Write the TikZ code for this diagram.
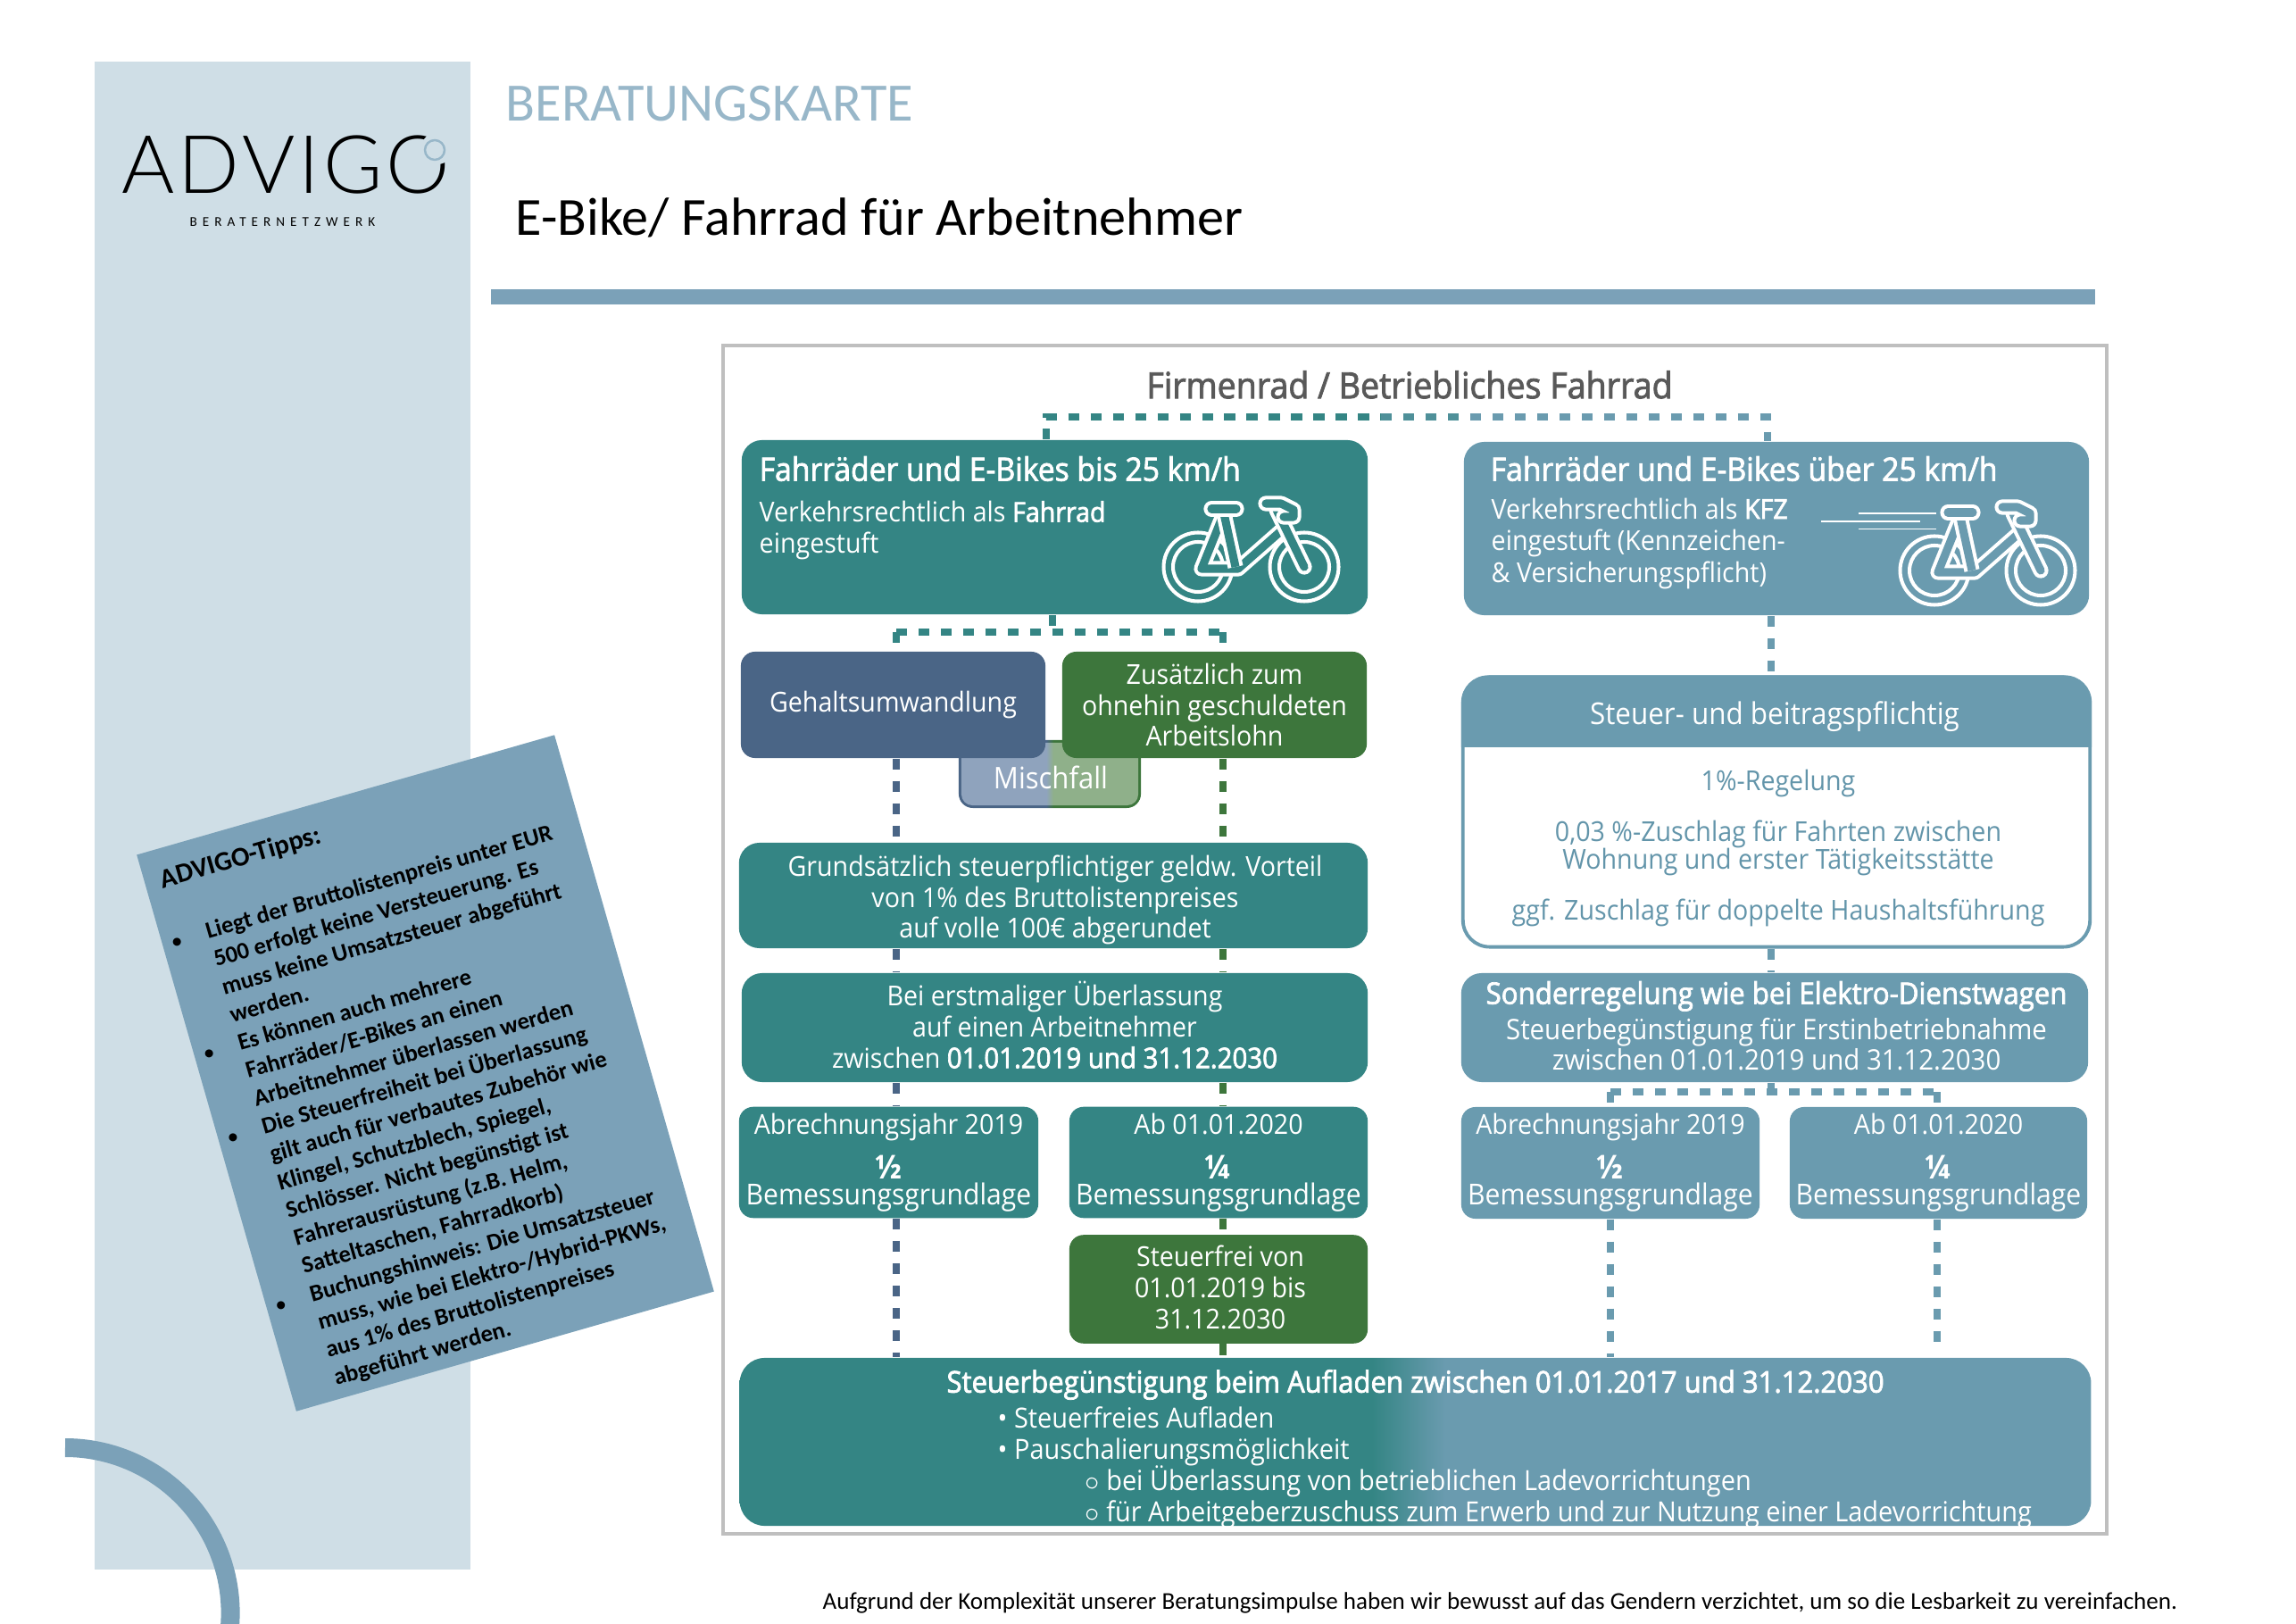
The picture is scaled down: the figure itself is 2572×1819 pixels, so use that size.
\documentclass[tikz,border=0pt]{standalone}
\usepackage{fontspec}
\setmainfont[FakeStretch=0.93]{Open Sans}
\newfontfamily\semifont[FakeBold=2.2,FakeStretch=0.93]{Open Sans}
\newfontfamily\cardfont{Carlito}
\newfontfamily\logofont{Lato Light}
\usepackage{tikz}
\setlength{\normallineskiplimit}{-20pt}
\AtBeginDocument{\lineskiplimit=-20pt}

\definecolor{panelBg}{HTML}{CFDEE6}
\definecolor{barBlue}{HTML}{7BA1B8}
\definecolor{cardBlue}{HTML}{98B7C9}
\definecolor{frameGray}{HTML}{BFBFBF}
\definecolor{headGray}{HTML}{595959}
\definecolor{fillTeal}{HTML}{348584}
\definecolor{fillBlue}{HTML}{6A9BAF}
\definecolor{fillNavy}{HTML}{4A6586}
\definecolor{fillGreen}{HTML}{3D763C}
\definecolor{mixNavy}{HTML}{8FA3BD}
\definecolor{mixGreen}{HTML}{8FB08A}
\definecolor{textBlue}{HTML}{6395AA}

\pgfdeclarehorizontalshading{chargeShade}{100bp}{color(0bp)=(fillTeal); color(48.4bp)=(fillTeal); color(51.1bp)=(fillBlue); color(100bp)=(fillBlue)}
\pgfdeclarehorizontalshading{mischShade}{100bp}{color(0bp)=(mixNavy); color(49bp)=(mixNavy); color(51bp)=(mixGreen); color(100bp)=(mixGreen)}
\pgfdeclarehorizontalshading{mischEdge}{100bp}{color(0bp)=(fillNavy); color(49bp)=(fillNavy); color(51bp)=(fillGreen); color(100bp)=(fillGreen)}

\newcommand{\bodyText}{\fontsize{8.75pt}{9.9pt}\selectfont}
\newcommand{\semiText}{\semifont\fontsize{9.5pt}{9.9pt}\selectfont}
\newcommand{\basisLine}{{\fontsize{9.2pt}{8.25pt}\selectfont Bemessungsgrundlage}}
\newcommand{\tipDot}{\llap{{\fontsize{6pt}{9pt}\selectfont\textbullet}\hspace{8.4pt}}}

\tikzset{
  bikeline/.style={white, line width=1.15pt},
  bikeicon/.pic={
    \draw[bikeline] (0,0) circle[radius=38.5];
    \draw[bikeline] (0,0) circle[radius=28];
    \draw[bikeline] (119,0) circle[radius=38.5];
    \draw[bikeline] (119,0) circle[radius=28];
    \draw[bikeline, double=#1, double distance=2.6pt, line join=round] (29,-60) -- (4,2) -- (45,2) -- (95,-42);
    \draw[bikeline, double=#1, double distance=2.6pt, line join=round] (29,-60) -- (42,0);
    \draw[bikeline, double=#1, double distance=2.6pt, line cap=round] (88,-64) -- (119,0);
    \draw[bikeline, double=#1, double distance=2.6pt, line cap=round, line join=round] (76,-71) -- (93,-71) -- (107,-64) -- (107,-56) -- (96,-56);
    \draw[bikeline, double=#1, double distance=2.6pt, line cap=round] (15,-65) -- (43,-65);
  }
}

\begin{document}
\begin{tikzpicture}[
  x=0.01cm, y=-0.01cm,
  font=\bodyText,
  boxTeal/.style={fill=fillTeal, text=white, align=center, inner sep=0pt, rounded corners=6.5pt},
  boxBlue/.style={fill=fillBlue, text=white, align=center, inner sep=0pt, rounded corners=6.5pt},
  boxNavy/.style={fill=fillNavy, text=white, align=center, inner sep=0pt, rounded corners=4.5pt},
  boxGreen/.style={fill=fillGreen, text=white, align=center, inner sep=0pt, rounded corners=4.5pt},
  lblL/.style={anchor=west, align=left, text=white, inner sep=0pt},
  lblC/.style={align=center, text=white, inner sep=0pt},
  linkTeal/.style={draw=fillTeal, line width=2.2pt, dash pattern=on 3.5pt off 3.6pt},
  linkBlue/.style={draw=fillBlue, line width=2.2pt, dash pattern=on 3.5pt off 3.6pt},
  linkNavy/.style={draw=fillNavy, line width=2.2pt, dash pattern=on 3.5pt off 3.6pt},
  linkGreen/.style={draw=fillGreen, line width=2.2pt, dash pattern=on 3.5pt off 3.6pt},
  speed/.style={white, line width=0.45pt}
]
\useasboundingbox (0,0) rectangle (2572,1819);

\def\xLohnL{1004}
\def\xLohnR{1370}
\def\xAbL{1804}
\def\xAbR{2170}
\def\yTop{467}
\def\yFork{708}
\def\yForkR{1223}

% ------------------------
% Page furniture
% ------------------------
\fill[panelBg] (106,69) rectangle (527,1758);
\fill[barBlue] (550,324) rectangle (2347,341);
\draw[barBlue, line width=5.97pt] (73,1621.5) arc[start angle=90, end angle=-6, radius=1.85cm];

\node[inner sep=0pt, anchor=base west, text=black, font=\logofont\fontsize{25.7pt}{26pt}\selectfont] (logo) at (136,217) {\addfontfeature{LetterSpace=4.5}ADVIGO};
\fill[panelBg] (490,166) circle[radius=18];
\draw[cardBlue, line width=0.7pt] (487,168) circle[radius=11];
\node[inner sep=0pt, anchor=base west, text=black, font=\cardfont\fontsize{4.3pt}{5pt}\selectfont] (logoSub) at (212,254) {\addfontfeature{LetterSpace=40}BERATERNETZWERK};

\node[inner sep=0pt, anchor=base west, text=cardBlue, font=\cardfont\fontsize{17.2pt}{18pt}\selectfont] (card) at (566,136) {BERATUNGSKARTE};
\node[inner sep=0pt, anchor=base west, text=black, font=\cardfont\fontsize{17.1pt}{18pt}\selectfont] (title) at (577,264) {E-Bike/ Fahrrad für Arbeitnehmer};

% Tips sheet
\node[fill=barBlue, rotate=16, minimum width=4.865cm, minimum height=6.48cm, inner sep=0pt] (tipSheet) at (476.5,1202) {};
\node[rotate=16, anchor=north west, align=left, inner sep=0pt, text=black, font=\cardfont\bfseries\fontsize{7.55pt}{9.25pt}\selectfont] (tipText) at (176,974) {%
{\fontsize{8.65pt}{9.25pt}\selectfont ADVIGO-Tipps:}\\[10.2pt]
\hspace{9.4pt}\tipDot Liegt der Bruttolistenpreis unter EUR\\
\hspace{9.4pt}500 erfolgt keine Versteuerung. Es\\
\hspace{9.4pt}muss keine Umsatzsteuer abgeführt\\
\hspace{9.4pt}werden.\\
\hspace{9.4pt}\tipDot Es können auch mehrere\\
\hspace{9.4pt}Fahrräder/E-Bikes an einen\\
\hspace{9.4pt}Arbeitnehmer überlassen werden\\
\hspace{9.4pt}\tipDot Die Steuerfreiheit bei Überlassung\\
\hspace{9.4pt}gilt auch für verbautes Zubehör wie\\
\hspace{9.4pt}Klingel, Schutzblech, Spiegel,\\
\hspace{9.4pt}Schlösser. Nicht begünstigt ist\\
\hspace{9.4pt}Fahrerausrüstung (z.B. Helm,\\
\hspace{9.4pt}Satteltaschen, Fahrradkorb)\\
\hspace{9.4pt}\tipDot Buchungshinweis: Die Umsatzsteuer\\
\hspace{9.4pt}muss, wie bei Elektro-/Hybrid-PKWs,\\
\hspace{9.4pt}aus 1\% des Bruttolistenpreises\\
\hspace{9.4pt}abgeführt werden.};

% ------------------------
% Chart frame and heading
% ------------------------
\draw[frameGray, line width=1.4pt] (810,387) rectangle (2360,1718);
\node[inner sep=0pt, text=headGray, font=\semifont\fontsize{11.5pt}{12pt}\selectfont] (chartHead) at (1579,431) {Firmenrad / Betriebliches Fahrrad};

% ------------------------
% Boxes, placed first so that the links can name them
% ------------------------
\node[boxTeal, minimum width=7.01cm, minimum height=1.95cm] (bis25) at (1181.5,590.5) {};
\node[boxBlue, minimum width=7.00cm, minimum height=1.94cm] (ueber25) at (1990,592) {};
\node[boxBlue, minimum width=7.02cm, minimum height=3.02cm, fill=white, draw=fillBlue, line width=1.1pt, rounded corners=8.5pt] (steuer) at (1990,909.5) {};
\node[boxBlue, minimum width=7.02cm, minimum height=1.22cm] (sonder) at (1988,1151) {};
\node[boxTeal, minimum width=7.04cm, minimum height=1.18cm] (grund) at (1180,1003) {};
\node[boxTeal, minimum width=7.01cm, minimum height=1.22cm] (erst) at (1181.5,1151) {};
\node[boxTeal, minimum width=3.35cm, minimum height=1.245cm, rounded corners=4.5pt] (abL) at (995.5,1302) {};
\node[boxTeal, minimum width=3.34cm, minimum height=1.245cm, rounded corners=4.5pt] (abLneu) at (1365,1302) {};
\node[boxGreen, minimum width=3.34cm, minimum height=1.215cm] (frei) at (1365,1444) {};
\node[boxBlue, minimum width=3.34cm, minimum height=1.25cm, rounded corners=4.5pt] (abR) at (1804,1302.5) {};
\node[boxBlue, minimum width=3.33cm, minimum height=1.25cm, rounded corners=4.5pt] (abRneu) at (2171.5,1302.5) {};

\coordinate (topL) at (1172,\yTop);
\coordinate (topM) at (1547,\yTop);
\coordinate (topN) at (1647,\yTop);
\coordinate (topR) at (1980,\yTop);
\coordinate (forkL) at (\xLohnL,\yFork);
\coordinate (forkR) at (\xLohnR,\yFork);
\coordinate (forkC) at (1179,\yFork);
\coordinate (lowL) at (\xAbL,\yForkR);
\coordinate (lowR) at (\xAbR,\yForkR);
\coordinate (lowC) at (1984,\yForkR);
\coordinate (stopR) at (\xAbR,1515);

% Links from the two main boxes
\draw[linkTeal] (bis25.north -| topL) |- (topM);
\draw[draw=fillTeal!50!fillBlue, line width=2.2pt, dash pattern=on 3.5pt off 3.6pt] (topM) -- (topN);
\draw[linkBlue] (topN) -| (ueber25.north -| topR);
\draw[linkTeal] (bis25.south -| forkC) -- (forkC);
\draw[linkTeal] (forkL) -- (forkR);
\draw[linkBlue] (ueber25.south -| lowC) -- (steuer.north -| lowC);
\draw[linkBlue] (steuer.south -| lowC) -- (sonder.north -| lowC);
\draw[linkBlue] (sonder.south -| lowC) -- (lowC);
\draw[linkBlue] (lowL) -- (lowR);

% Mixed case sits behind the two pay boxes
\node[shade, shading=mischEdge, minimum width=2.04cm, minimum height=0.76cm, inner sep=0pt, rounded corners=4.5pt] (mischEdgeBox) at (1176,867) {};
\node[shade, shading=mischShade, minimum width=1.98cm, minimum height=0.70cm, inner sep=0pt, rounded corners=3.5pt] (misch) at (1176,867) {};
\node[inner sep=0pt, text=white, font=\fontsize{9.5pt}{11pt}\selectfont] (mischText) at (1177,871) {Mischfall};

\node[boxNavy, minimum width=3.41cm, minimum height=1.19cm] (gehalt) at (1000.5,789.5) {Gehaltsumwandlung};
\node[boxGreen, minimum width=3.41cm, minimum height=1.19cm] (lohn) at (1360.5,789.5) {Zusätzlich zum\\ohnehin geschuldeten\\Arbeitslohn};

\draw[linkTeal] (forkL) -- (gehalt.north -| forkL);
\draw[linkTeal] (forkR) -- (lohn.north -| forkR);
\draw[linkBlue] (lowL) -- (abR.north -| lowL);
\draw[linkBlue] (lowR) -- (abRneu.north -| lowR);

% Bottom box
\node[shade, shading=chargeShade, minimum width=15.13cm, minimum height=1.88cm, inner sep=0pt, rounded corners=8pt] (laden) at (1585.5,1615) {};

% Legs down to the bottom box
\draw[linkNavy] (gehalt.south -| forkL) -- (grund.north -| forkL);
\draw[linkNavy] (grund.south -| forkL) -- (erst.north -| forkL);
\draw[linkNavy] (erst.south -| forkL) -- (abL.north -| forkL);
\draw[linkNavy] (abL.south -| forkL) -- (laden.north -| forkL);
\draw[linkGreen] (lohn.south -| forkR) -- (grund.north -| forkR);
\draw[linkGreen] (grund.south -| forkR) -- (erst.north -| forkR);
\draw[linkGreen] (erst.south -| forkR) -- (abLneu.north -| forkR);
\draw[linkGreen] (abLneu.south -| forkR) -- (frei.north -| forkR);
\draw[linkGreen] (frei.south -| forkR) -- (laden.north -| forkR);
\draw[linkBlue] (abR.south -| lowL) -- (laden.north -| lowL);
\draw[linkBlue] (abRneu.south -| lowR) -- (stopR);

% ------------------------
% Texts in the boxes
% ------------------------
\node[lblL, font=\semifont\fontsize{10.3pt}{10pt}\selectfont] (bis25Title) at (850,525) {Fahrräder und E-Bikes bis 25 km/h};
\node[lblL, font=\bodyText] (bis25Text) at (850,594) {Verkehrsrechtlich als {\semifont Fahrrad}\\eingestuft};
\pic at (1342,635) {bikeicon=fillTeal};

\node[lblL, font=\semifont\fontsize{10.3pt}{10pt}\selectfont] (ueber25Title) at (1669,525) {Fahrräder und E-Bikes über 25 km/h};
\node[lblL, font=\fontsize{8.75pt}{10.2pt}\selectfont] (ueber25Text) at (1670,609) {Verkehrsrechtlich als {\semifont KFZ}\\eingestuft (Kennzeichen-\\\& Versicherungspflicht)};
\pic at (2167,639) {bikeicon=fillBlue};
\draw[speed] (2082,575) -- (2169,575);
\draw[speed] (2040,584) -- (2151,584);
\draw[speed] (2082,592.5) -- (2169,592.5);

% Header strip of the tax box
\fill[fillBlue] (steuer.west |- 0,837) [rounded corners=8.5pt] -- (steuer.north west) -- (steuer.north east) [sharp corners] -- (steuer.east |- 0,837) -- cycle;
\node[inner sep=0pt, text=white, font=\fontsize{9.6pt}{10pt}\selectfont] (steuerHead) at (1988,803) {Steuer- und beitragspflichtig};
\node[inner sep=0pt, text=textBlue, align=center, font=\fontsize{8.75pt}{8.8pt}\selectfont] (steuerText) at (1992,950) {1\%-Regelung\\[7.4pt]0,03 \%-Zuschlag für Fahrten zwischen\\Wohnung und erster Tätigkeitsstätte\\[7.4pt]ggf. Zuschlag für doppelte Haushaltsführung};

\node[lblC] (grundText) at (1182,1008) {Grundsätzlich steuerpflichtiger geldw. Vorteil\\von 1\% des Bruttolistenpreises\\auf volle 100€ abgerundet};
\node[lblC] (erstText) at (1181.5,1148) {Bei erstmaliger Überlassung\\auf einen Arbeitnehmer\\zwischen {\semifont\fontsize{9pt}{9.9pt}\selectfont 01.01.2019 und 31.12.2030}};
\node[lblC, font=\fontsize{8.75pt}{8.25pt}\selectfont] (abLText) at (abL) {Abrechnungsjahr 2019\\[6pt]{\bfseries\fontsize{10.5pt}{8.25pt}\selectfont ½}\\\basisLine};
\node[lblC, font=\fontsize{8.75pt}{8.25pt}\selectfont] (abLneuText) at (abLneu) {Ab 01.01.2020\\[6pt]{\bfseries\fontsize{10.5pt}{8.25pt}\selectfont ¼}\\\basisLine};
\node[lblC] (freiText) at (1367,1442) {Steuerfrei von\\01.01.2019 bis\\31.12.2030};
\node[lblC, font=\fontsize{8.75pt}{8.25pt}\selectfont] (abRText) at (abR) {Abrechnungsjahr 2019\\[6pt]{\bfseries\fontsize{10.5pt}{8.25pt}\selectfont ½}\\\basisLine};
\node[lblC, font=\fontsize{8.75pt}{8.25pt}\selectfont] (abRneuText) at (abRneu) {Ab 01.01.2020\\[6pt]{\bfseries\fontsize{10.5pt}{8.25pt}\selectfont ¼}\\\basisLine};
\node[lblC, font=\fontsize{9pt}{9.7pt}\selectfont] (sonderText) at (1990,1149) {{\semifont\fontsize{9.55pt}{9.7pt}\selectfont Sonderregelung wie bei Elektro-Dienstwagen}\\[1.6pt]Steuerbegünstigung für Erstinbetriebnahme\\zwischen 01.01.2019 und 31.12.2030};

\node[inner sep=0pt, text=white, font=\semiText] (ladenTitle) at (1585.5,1551) {Steuerbegünstigung beim Aufladen zwischen 01.01.2017 und 31.12.2030};
\node[lblL, font=\fontsize{8.85pt}{9.9pt}\selectfont] (ladenList) at (1117,1644) {\textbullet\ Steuerfreies Aufladen\\\textbullet\ Pauschalierungsmöglichkeit\\\hspace{27.8pt}$\circ$ bei Überlassung von betrieblichen Ladevorrichtungen\\\hspace{27.8pt}$\circ$ für Arbeitgeberzuschuss zum Erwerb und zur Nutzung einer Ladevorrichtung};

% Footer line
\node[inner sep=0pt, anchor=base west, text=black, font=\cardfont\fontsize{7.7pt}{9pt}\selectfont] (footer) at (921,1802) {Aufgrund der Komplexität unserer Beratungsimpulse haben wir bewusst auf das Gendern verzichtet, um so die Lesbarkeit zu vereinfachen.};

\end{tikzpicture}
\end{document}
